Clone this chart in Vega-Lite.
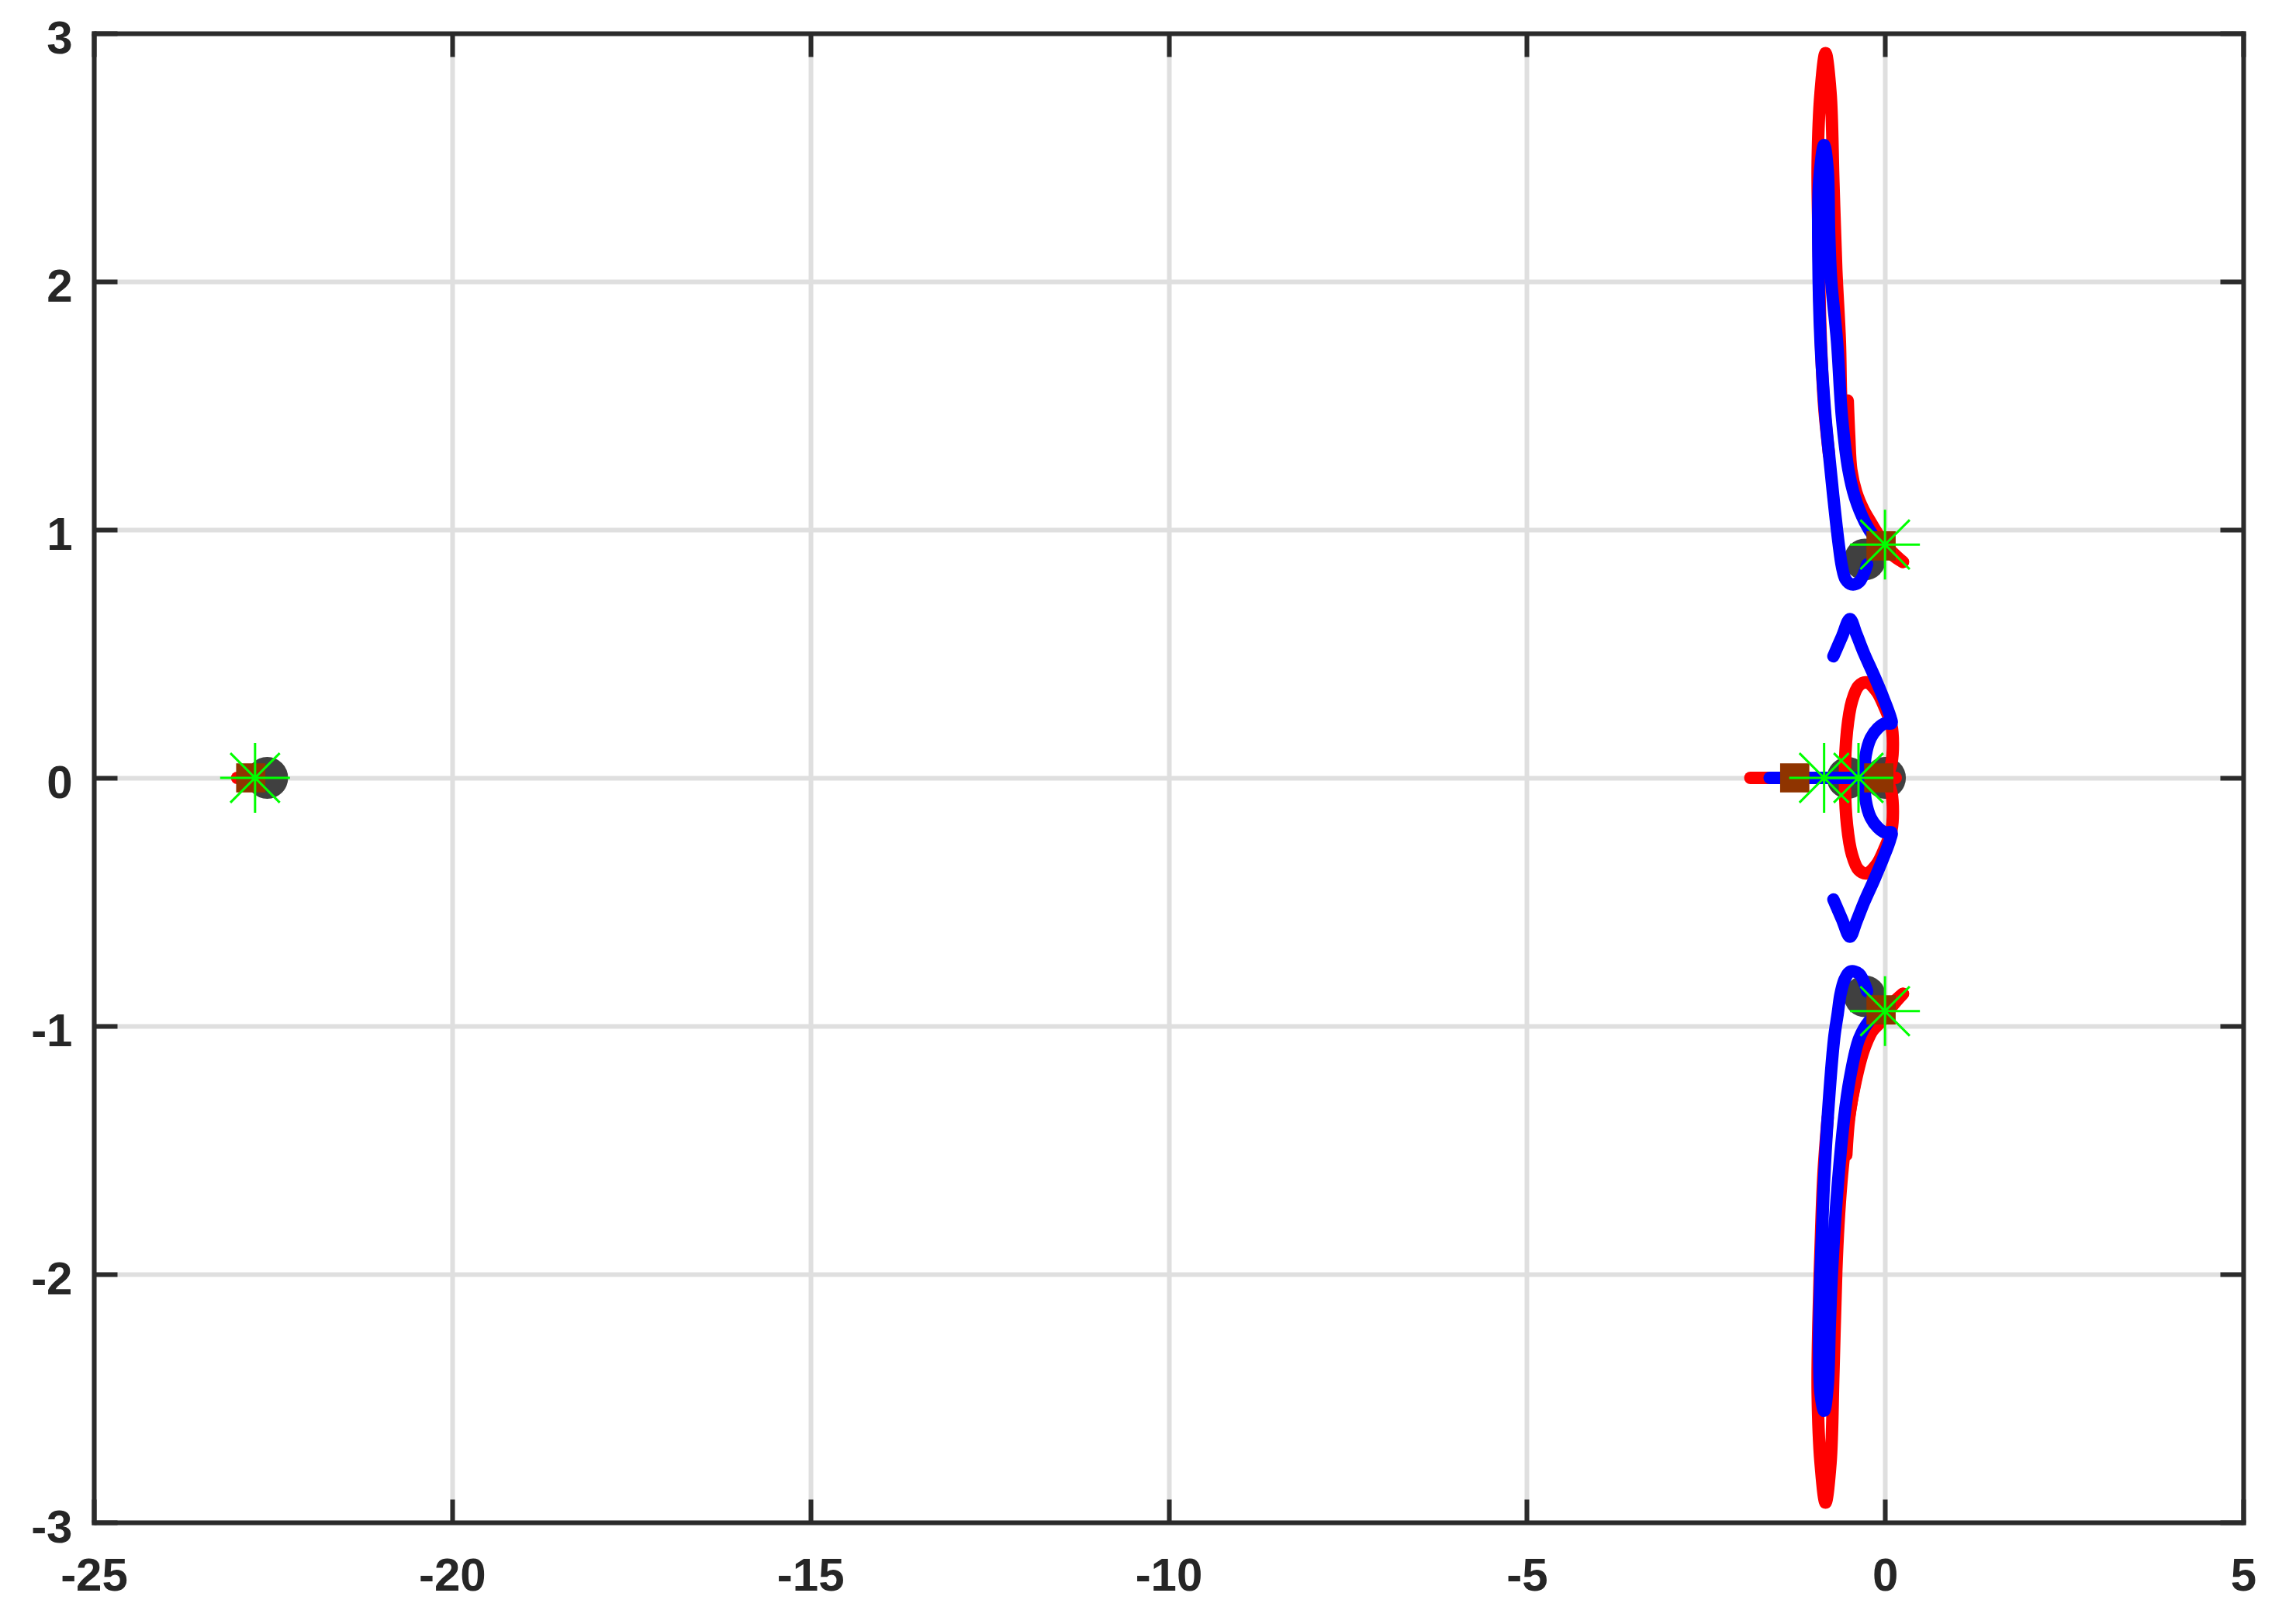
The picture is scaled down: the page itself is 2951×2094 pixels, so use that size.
{
  "$schema": "https://vega.github.io/schema/vega-lite/v6.json",
  "width": 2771,
  "height": 1920,
  "autosize": {"type": "none"},
  "padding": {"left": 121, "top": 43, "right": 59, "bottom": 131},
  "background": "white",
  "config": {"view": {"stroke": null}},
  "datasets": {
    "curves": [
      {"s":"B1u","c":"b","o":0,"x":-0.25,"y":0.86},{"s":"B1u","c":"b","o":1,"x":-0.36,"y":0.79},{"s":"B1u","c":"b","o":2,"x":-0.47,"y":0.78},{"s":"B1u","c":"b","o":3,"x":-0.55,"y":0.8},{"s":"B1u","c":"b","o":4,"x":-0.6,"y":0.85},{"s":"B1u","c":"b","o":5,"x":-0.65,"y":0.95},{"s":"B1u","c":"b","o":6,"x":-0.72,"y":1.13},{"s":"B1u","c":"b","o":7,"x":-0.78,"y":1.3},{"s":"B1u","c":"b","o":8,"x":-0.83,"y":1.45},{"s":"B1u","c":"b","o":9,"x":-0.9,"y":1.76},{"s":"B1u","c":"b","o":10,"x":-0.93,"y":2.1},{"s":"B1u","c":"b","o":11,"x":-0.92,"y":2.4},{"s":"B1u","c":"b","o":12,"x":-0.85,"y":2.55},{"s":"B1u","c":"b","o":13,"x":-0.8,"y":2.45},{"s":"B1u","c":"b","o":14,"x":-0.78,"y":2.2},{"s":"B1u","c":"b","o":15,"x":-0.75,"y":2.0},{"s":"B1u","c":"b","o":16,"x":-0.67,"y":1.76},{"s":"B1u","c":"b","o":17,"x":-0.6,"y":1.45},{"s":"B1u","c":"b","o":18,"x":-0.51,"y":1.24},{"s":"B1u","c":"b","o":19,"x":-0.42,"y":1.13},{"s":"B1u","c":"b","o":20,"x":-0.28,"y":1.03},{"s":"B1u","c":"b","o":21,"x":-0.15,"y":0.97},{"s":"B1u","c":"b","o":22,"x":-0.05,"y":0.94},
      {"s":"B1l","c":"b","o":0,"x":-0.25,"y":-0.86},{"s":"B1l","c":"b","o":1,"x":-0.36,"y":-0.79},{"s":"B1l","c":"b","o":2,"x":-0.48,"y":-0.78},{"s":"B1l","c":"b","o":3,"x":-0.56,"y":-0.81},{"s":"B1l","c":"b","o":4,"x":-0.62,"y":-0.87},{"s":"B1l","c":"b","o":5,"x":-0.66,"y":-0.95},{"s":"B1l","c":"b","o":6,"x":-0.71,"y":-1.05},{"s":"B1l","c":"b","o":7,"x":-0.8,"y":-1.37},{"s":"B1l","c":"b","o":8,"x":-0.86,"y":-1.68},{"s":"B1l","c":"b","o":9,"x":-0.9,"y":-1.99},{"s":"B1l","c":"b","o":10,"x":-0.92,"y":-2.3},{"s":"B1l","c":"b","o":11,"x":-0.9,"y":-2.48},{"s":"B1l","c":"b","o":12,"x":-0.85,"y":-2.55},{"s":"B1l","c":"b","o":13,"x":-0.8,"y":-2.45},{"s":"B1l","c":"b","o":14,"x":-0.77,"y":-2.2},{"s":"B1l","c":"b","o":15,"x":-0.74,"y":-1.99},{"s":"B1l","c":"b","o":16,"x":-0.67,"y":-1.68},{"s":"B1l","c":"b","o":17,"x":-0.57,"y":-1.37},{"s":"B1l","c":"b","o":18,"x":-0.49,"y":-1.21},{"s":"B1l","c":"b","o":19,"x":-0.36,"y":-1.05},{"s":"B1l","c":"b","o":20,"x":-0.22,"y":-0.98},{"s":"B1l","c":"b","o":21,"x":-0.05,"y":-0.94},
      {"s":"B2","c":"b","o":0,"x":-0.72,"y":0.49},{"s":"B2","c":"b","o":1,"x":-0.6,"y":0.57},{"s":"B2","c":"b","o":2,"x":-0.49,"y":0.64},{"s":"B2","c":"b","o":3,"x":-0.4,"y":0.58},{"s":"B2","c":"b","o":4,"x":-0.29,"y":0.5},{"s":"B2","c":"b","o":5,"x":-0.15,"y":0.41},{"s":"B2","c":"b","o":6,"x":-0.02,"y":0.32},{"s":"B2","c":"b","o":7,"x":0.07,"y":0.25},{"s":"B2","c":"b","o":8,"x":0.09,"y":0.22},{"s":"B2","c":"b","o":9,"x":0.0,"y":0.22},{"s":"B2","c":"b","o":10,"x":-0.1,"y":0.2},{"s":"B2","c":"b","o":11,"x":-0.2,"y":0.16},{"s":"B2","c":"b","o":12,"x":-0.27,"y":0.09},{"s":"B2","c":"b","o":13,"x":-0.29,"y":0.0},{"s":"B2","c":"b","o":14,"x":-0.27,"y":-0.09},{"s":"B2","c":"b","o":15,"x":-0.2,"y":-0.16},{"s":"B2","c":"b","o":16,"x":-0.1,"y":-0.2},{"s":"B2","c":"b","o":17,"x":0.0,"y":-0.22},{"s":"B2","c":"b","o":18,"x":0.09,"y":-0.22},{"s":"B2","c":"b","o":19,"x":0.07,"y":-0.25},{"s":"B2","c":"b","o":20,"x":-0.02,"y":-0.32},{"s":"B2","c":"b","o":21,"x":-0.15,"y":-0.41},{"s":"B2","c":"b","o":22,"x":-0.29,"y":-0.5},{"s":"B2","c":"b","o":23,"x":-0.4,"y":-0.58},{"s":"B2","c":"b","o":24,"x":-0.49,"y":-0.64},{"s":"B2","c":"b","o":25,"x":-0.6,"y":-0.57},{"s":"B2","c":"b","o":26,"x":-0.72,"y":-0.49},
      {"s":"B3","c":"b","o":0,"x":-1.61,"y":0},{"s":"B3","c":"b","o":1,"x":-0.32,"y":0},
      {"s":"R1u","c":"r","o":0,"x":0.25,"y":0.87},{"s":"R1u","c":"r","o":1,"x":0.1,"y":0.9},{"s":"R1u","c":"r","o":2,"x":-0.05,"y":0.96},{"s":"R1u","c":"r","o":3,"x":-0.2,"y":1.02},{"s":"R1u","c":"r","o":4,"x":-0.33,"y":1.08},{"s":"R1u","c":"r","o":5,"x":-0.45,"y":1.17},{"s":"R1u","c":"r","o":6,"x":-0.53,"y":1.3},{"s":"R1u","c":"r","o":7,"x":-0.58,"y":1.42},{"s":"R1u","c":"r","o":8,"x":-0.61,"y":1.52},{"s":"R1u","c":"r","o":9,"x":-0.63,"y":1.76},{"s":"R1u","c":"r","o":10,"x":-0.68,"y":2.05},{"s":"R1u","c":"r","o":11,"x":-0.72,"y":2.4},{"s":"R1u","c":"r","o":12,"x":-0.76,"y":2.76},{"s":"R1u","c":"r","o":13,"x":-0.83,"y":2.92},{"s":"R1u","c":"r","o":14,"x":-0.9,"y":2.76},{"s":"R1u","c":"r","o":15,"x":-0.94,"y":2.48},{"s":"R1u","c":"r","o":16,"x":-0.93,"y":2.2},{"s":"R1u","c":"r","o":17,"x":-0.9,"y":1.8},{"s":"R1u","c":"r","o":18,"x":-0.85,"y":1.5},{"s":"R1u","c":"r","o":19,"x":-0.78,"y":1.3},
      {"s":"R1l","c":"r","o":0,"x":0.25,"y":-0.87},{"s":"R1l","c":"r","o":1,"x":0.1,"y":-0.91},{"s":"R1l","c":"r","o":2,"x":-0.05,"y":-0.97},{"s":"R1l","c":"r","o":3,"x":-0.18,"y":-1.02},{"s":"R1l","c":"r","o":4,"x":-0.3,"y":-1.1},{"s":"R1l","c":"r","o":5,"x":-0.43,"y":-1.25},{"s":"R1l","c":"r","o":6,"x":-0.53,"y":-1.42},{"s":"R1l","c":"r","o":7,"x":-0.6,"y":-1.6},{"s":"R1l","c":"r","o":8,"x":-0.65,"y":-1.8},{"s":"R1l","c":"r","o":9,"x":-0.68,"y":-1.99},{"s":"R1l","c":"r","o":10,"x":-0.72,"y":-2.4},{"s":"R1l","c":"r","o":11,"x":-0.76,"y":-2.76},{"s":"R1l","c":"r","o":12,"x":-0.83,"y":-2.92},{"s":"R1l","c":"r","o":13,"x":-0.9,"y":-2.76},{"s":"R1l","c":"r","o":14,"x":-0.94,"y":-2.48},{"s":"R1l","c":"r","o":15,"x":-0.93,"y":-2.2},{"s":"R1l","c":"r","o":16,"x":-0.9,"y":-1.9},{"s":"R1l","c":"r","o":17,"x":-0.86,"y":-1.6},{"s":"R1l","c":"r","o":18,"x":-0.8,"y":-1.37},
      {"s":"R2u","c":"r","o":0,"x":0.25,"y":0.87},{"s":"R2u","c":"r","o":1,"x":0.1,"y":0.91},{"s":"R2u","c":"r","o":2,"x":-0.05,"y":0.96},{"s":"R2u","c":"r","o":3,"x":-0.2,"y":1.03},{"s":"R2u","c":"r","o":4,"x":-0.3,"y":1.08},{"s":"R2u","c":"r","o":5,"x":-0.4,"y":1.15},{"s":"R2u","c":"r","o":6,"x":-0.47,"y":1.24},{"s":"R2u","c":"r","o":7,"x":-0.5,"y":1.38},{"s":"R2u","c":"r","o":8,"x":-0.52,"y":1.52},
      {"s":"R2l","c":"r","o":0,"x":0.25,"y":-0.87},{"s":"R2l","c":"r","o":1,"x":0.1,"y":-0.92},{"s":"R2l","c":"r","o":2,"x":-0.05,"y":-0.98},{"s":"R2l","c":"r","o":3,"x":-0.18,"y":-1.02},{"s":"R2l","c":"r","o":4,"x":-0.28,"y":-1.06},{"s":"R2l","c":"r","o":5,"x":-0.4,"y":-1.2},{"s":"R2l","c":"r","o":6,"x":-0.5,"y":-1.37},{"s":"R2l","c":"r","o":7,"x":-0.54,"y":-1.52},
      {"s":"R3","c":"r","o":0,"x":0.02,"y":0.0},{"s":"R3","c":"r","o":1,"x":0.09,"y":0.06},{"s":"R3","c":"r","o":2,"x":0.11,"y":0.14},{"s":"R3","c":"r","o":3,"x":0.09,"y":0.21},{"s":"R3","c":"r","o":4,"x":0.0,"y":0.28},{"s":"R3","c":"r","o":5,"x":-0.12,"y":0.35},{"s":"R3","c":"r","o":6,"x":-0.26,"y":0.385},{"s":"R3","c":"r","o":7,"x":-0.37,"y":0.37},{"s":"R3","c":"r","o":8,"x":-0.46,"y":0.31},{"s":"R3","c":"r","o":9,"x":-0.53,"y":0.19},{"s":"R3","c":"r","o":10,"x":-0.56,"y":0.0},{"s":"R3","c":"r","o":11,"x":-0.53,"y":-0.19},{"s":"R3","c":"r","o":12,"x":-0.46,"y":-0.31},{"s":"R3","c":"r","o":13,"x":-0.37,"y":-0.37},{"s":"R3","c":"r","o":14,"x":-0.26,"y":-0.385},{"s":"R3","c":"r","o":15,"x":-0.12,"y":-0.35},{"s":"R3","c":"r","o":16,"x":0.0,"y":-0.28},{"s":"R3","c":"r","o":17,"x":0.09,"y":-0.21},{"s":"R3","c":"r","o":18,"x":0.11,"y":-0.14},{"s":"R3","c":"r","o":19,"x":0.09,"y":-0.06},{"s":"R3","c":"r","o":20,"x":0.02,"y":0.0},
      {"s":"R4","c":"r","o":0,"x":-1.88,"y":0},{"s":"R4","c":"r","o":1,"x":0.15,"y":0},
      {"s":"R5","c":"r","o":0,"x":-23.0,"y":0},{"s":"R5","c":"r","o":1,"x":-22.75,"y":0}
    ],
    "markers": [
      {"t":"circle","x":-22.58,"y":0},{"t":"circle","x":-0.28,"y":0.88},{"t":"circle","x":-0.28,"y":-0.88},{"t":"circle","x":0.0,"y":0.0},{"t":"circle","x":-0.52,"y":0.0},
      {"t":"square","x":-22.81,"y":0},{"t":"square","x":-0.055,"y":0.935},{"t":"square","x":-0.055,"y":-0.935},{"t":"square","x":-1.26,"y":0},{"t":"square","x":-0.087,"y":0},
      {"t":"star","x":-22.75,"y":0},{"t":"star","x":0.0,"y":0.94},{"t":"star","x":0.0,"y":-0.94},{"t":"star","x":-0.85,"y":0},{"t":"star","x":-0.37,"y":0}
    ]
  },
  "resolve": {"axis": {"x": "independent", "y": "independent"}},
  "layer": [
    {
      "data": {"name": "markers"},
      "transform": [{"filter": "datum.t === 'circle'"}],
      "mark": {"type": "point", "shape": "circle", "filled": true, "color": "#404040", "opacity": 1, "size": 2900},
      "encoding": {
        "x": {"field": "x", "type": "quantitative", "scale": {"domain": [-25, 5], "nice": false, "zero": false},
          "axis": {"orient": "bottom", "values": [-25, -20, -15, -10, -5, 0, 5], "title": null,
            "grid": true, "gridColor": "#dfdfdf", "gridWidth": 6,
            "domain": true, "domainColor": "#2b2b2b", "domainWidth": 6, "domainCap": "square",
            "ticks": true, "tickSize": -30, "tickWidth": 6, "tickColor": "#2b2b2b",
            "labelPadding": 70, "labelFont": "Liberation Sans", "labelFontSize": 60, "labelFontWeight": "bold", "labelColor": "#262626",
            "labelExpr": "'' + datum.value", "labelFlush": false, "labelOverlap": false, "labelBound": false}},
        "y": {"field": "y", "type": "quantitative", "scale": {"domain": [-3, 3], "nice": false, "zero": false},
          "axis": {"orient": "left", "values": [-3, -2, -1, 0, 1, 2, 3], "title": null,
            "grid": true, "gridColor": "#dfdfdf", "gridWidth": 6,
            "domain": true, "domainColor": "#2b2b2b", "domainWidth": 6, "domainCap": "square",
            "ticks": true, "tickSize": -30, "tickWidth": 6, "tickColor": "#2b2b2b",
            "labelPadding": 58, "labelOffset": 7, "labelFont": "Liberation Sans", "labelFontSize": 60, "labelFontWeight": "bold", "labelColor": "#262626",
            "labelExpr": "'' + datum.value", "labelFlush": false, "labelOverlap": false, "labelBound": false}}
      }
    },
    {
      "data": {"name": "curves"},
      "transform": [{"filter": "datum.c === 'r'"}],
      "mark": {"type": "line", "color": "#ff0000", "strokeWidth": 16, "strokeCap": "round", "strokeJoin": "round", "interpolate": "catmull-rom"},
      "encoding": {
        "x": {"field": "x", "type": "quantitative",
          "axis": {"orient": "top", "values": [-25, -20, -15, -10, -5, 0, 5], "title": null, "grid": false, "labels": false,
            "domain": true, "domainColor": "#2b2b2b", "domainWidth": 6, "domainCap": "square",
            "ticks": true, "tickSize": -30, "tickWidth": 6, "tickColor": "#2b2b2b"}},
        "y": {"field": "y", "type": "quantitative",
          "axis": {"orient": "right", "values": [-3, -2, -1, 0, 1, 2, 3], "title": null, "grid": false, "labels": false,
            "domain": true, "domainColor": "#2b2b2b", "domainWidth": 6, "domainCap": "square",
            "ticks": true, "tickSize": -30, "tickWidth": 6, "tickColor": "#2b2b2b"}},
        "detail": {"field": "s", "type": "nominal"},
        "order": {"field": "o", "type": "quantitative"}
      }
    },
    {
      "data": {"name": "curves"},
      "transform": [{"filter": "datum.c === 'b'"}],
      "mark": {"type": "line", "color": "#0000ff", "strokeWidth": 16, "strokeCap": "round", "strokeJoin": "round", "interpolate": "catmull-rom"},
      "encoding": {
        "x": {"field": "x", "type": "quantitative", "axis": null},
        "y": {"field": "y", "type": "quantitative", "axis": null},
        "detail": {"field": "s", "type": "nominal"},
        "order": {"field": "o", "type": "quantitative"}
      }
    },
    {
      "data": {"name": "markers"},
      "transform": [{"filter": "datum.t === 'square'"}],
      "mark": {"type": "point", "shape": "square", "filled": true, "color": "#8f3400", "opacity": 1, "size": 1420},
      "encoding": {
        "x": {"field": "x", "type": "quantitative", "axis": null},
        "y": {"field": "y", "type": "quantitative", "axis": null}
      }
    },
    {
      "data": {"name": "markers"},
      "transform": [{"filter": "datum.t === 'star'"}],
      "mark": {"type": "point", "shape": "M-1,0L1,0M0,-1L0,1M-0.707,-0.707L0.707,0.707M-0.707,0.707L0.707,-0.707", "filled": false, "color": "#00ff00", "opacity": 1, "strokeWidth": 3, "size": 8100},
      "encoding": {
        "x": {"field": "x", "type": "quantitative", "axis": null},
        "y": {"field": "y", "type": "quantitative", "axis": null}
      }
    }
  ]
}
